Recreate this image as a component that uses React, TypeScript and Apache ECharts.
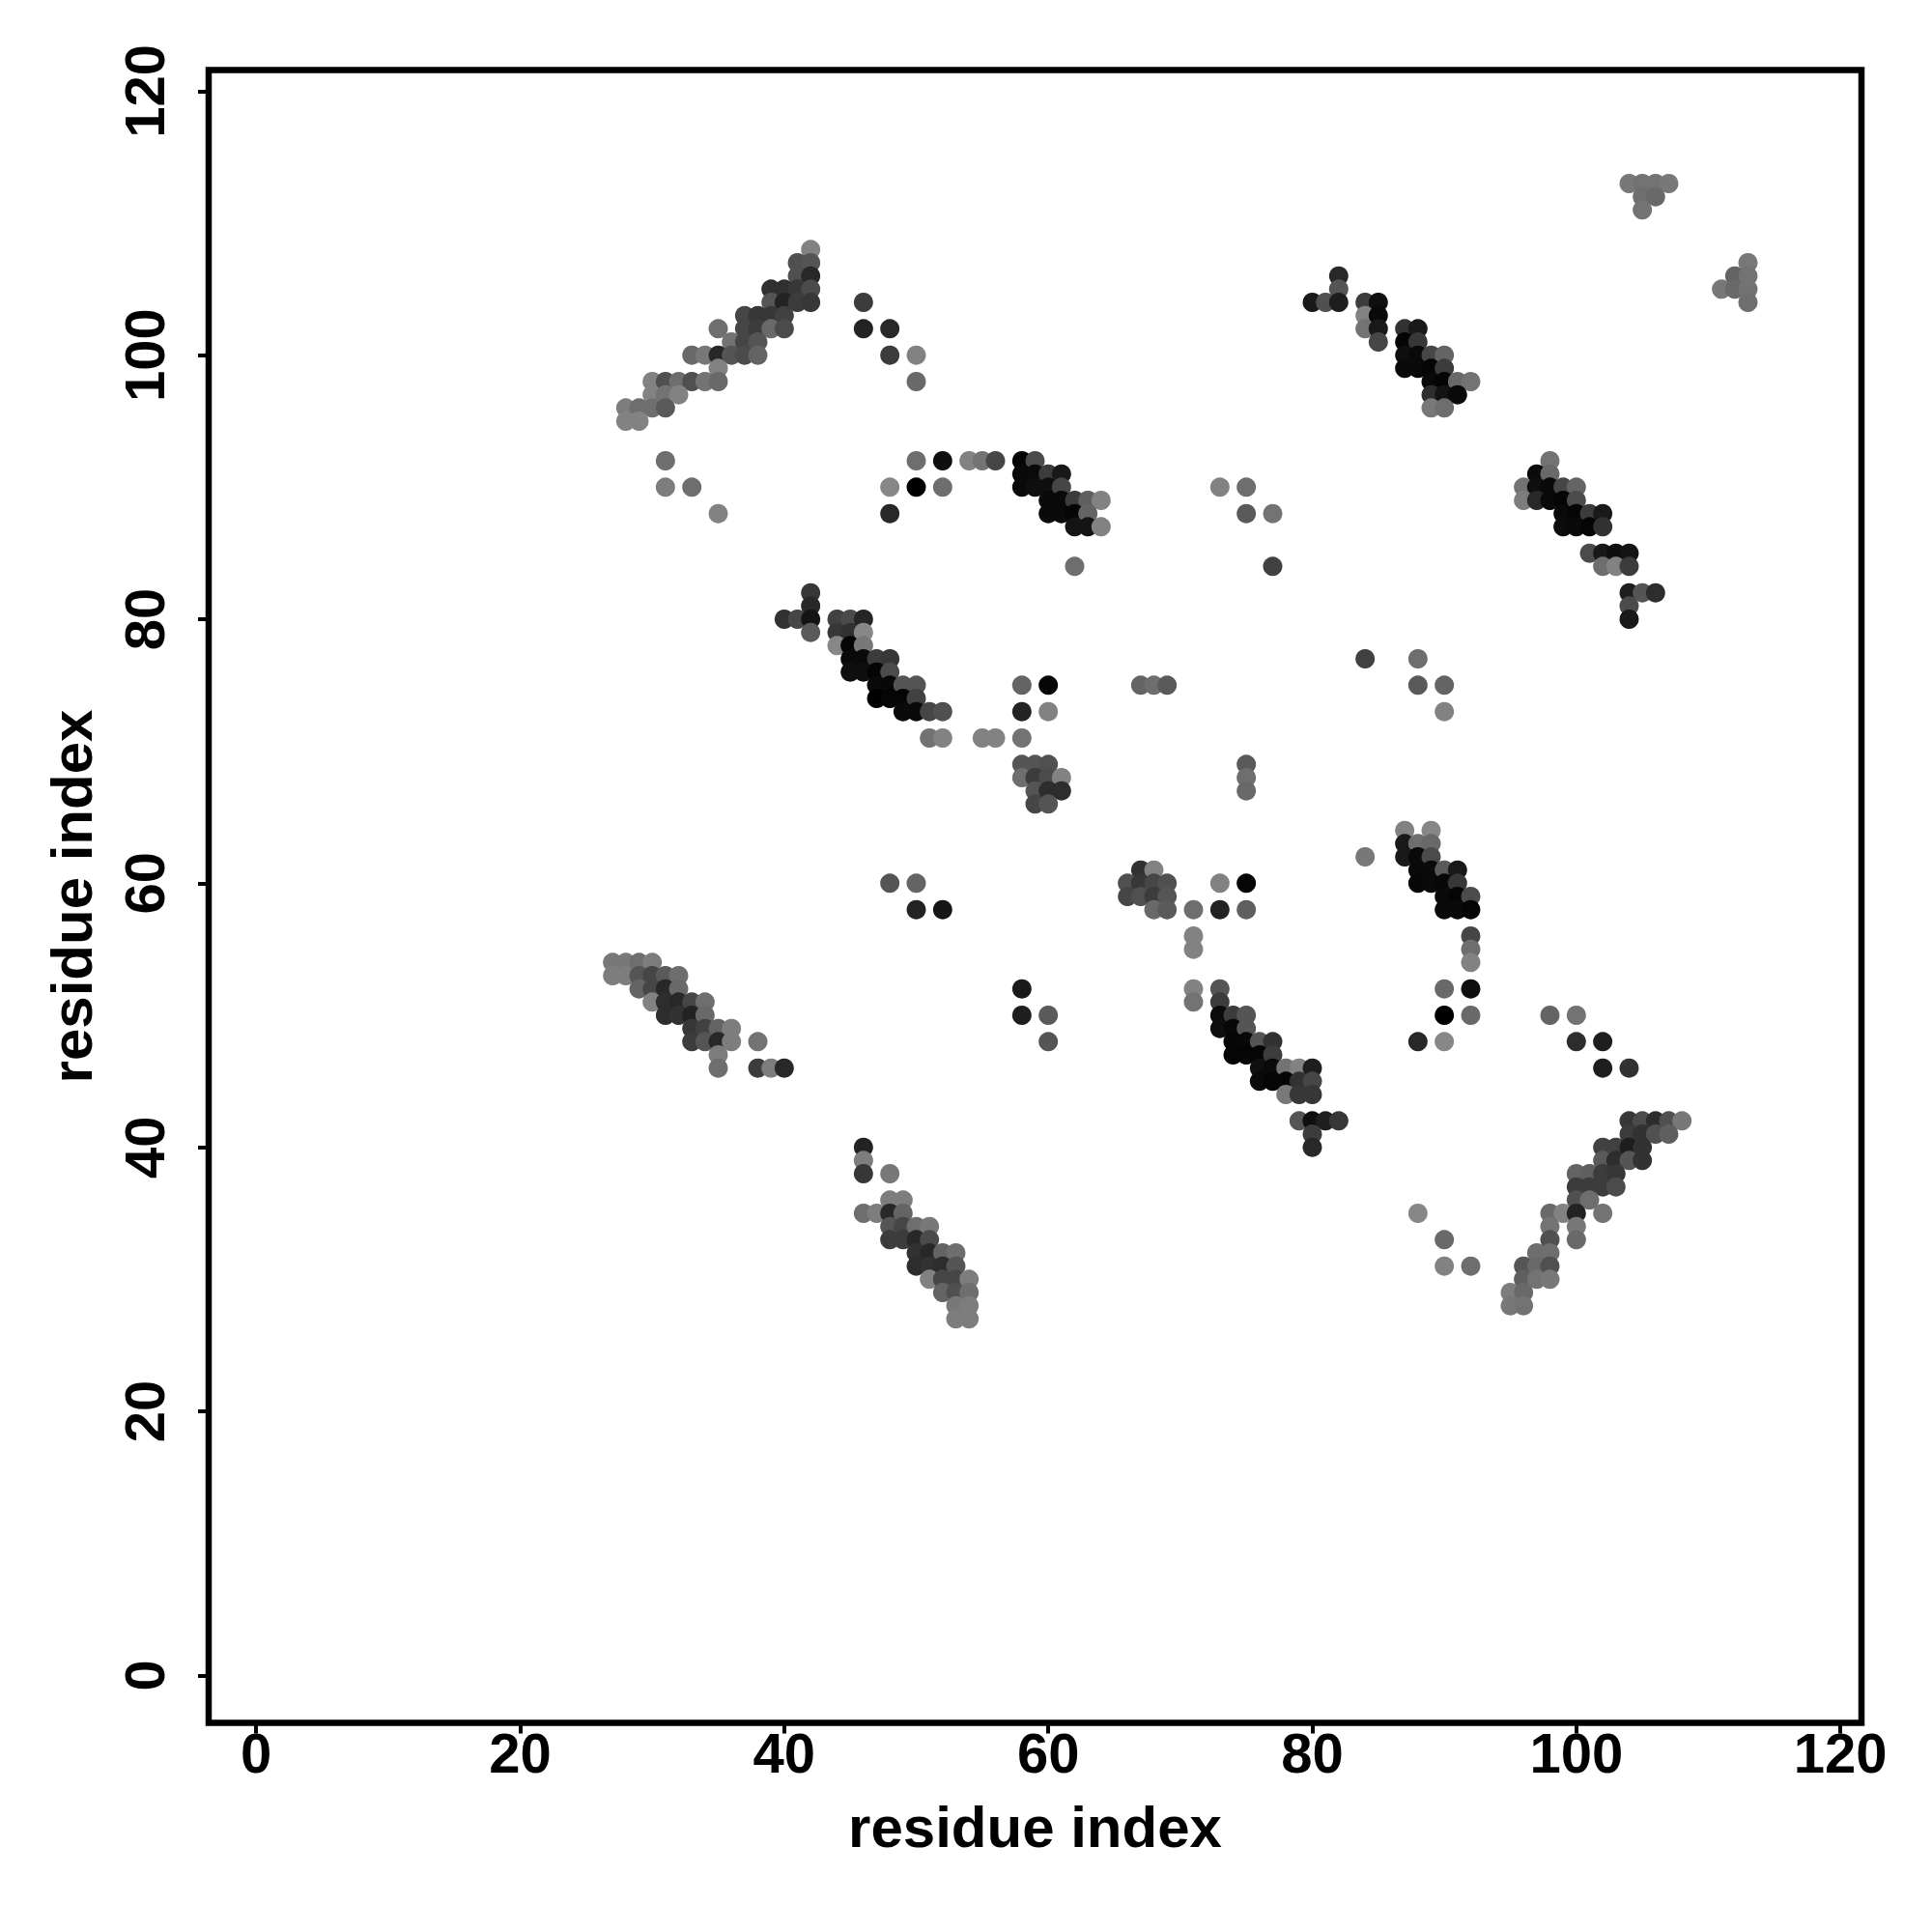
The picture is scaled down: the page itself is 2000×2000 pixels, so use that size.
import React, { useEffect, useRef } from "react";
import * as echarts from "echarts";

type P = [number, number, number];

// each point: [residue x, residue y, grey level of the dot]
const upperLeftBand: P[] = [
  [42,108,130],[41,107,80],[42,107,85],[41,106,80],[42,106,40],
  [39,105,48],[40,105,48],[41,105,55],[42,105,75],
  [39,104,85],[40,104,35],[41,104,60],[42,104,55],
  [37,103,70],[38,103,55],[39,103,55],[40,103,65],
  [35,102,110],[37,102,70],[38,102,60],[39,102,105],[40,102,75],
  [36,101,115],[37,101,70],[38,101,85],
  [33,100,105],[34,100,120],[35,100,40],[36,100,85],[37,100,75],[38,100,100],
  [35,99,130],
  [30,98,130],[31,98,80],[32,98,110],[33,98,80],[34,98,115],[35,98,105],
  [30,97,130],[31,97,115],[32,97,130],
  [28,96,125],[29,96,110],[30,96,110],[31,96,90],
  [28,95,130],[29,95,130],
  [31,92,110],[31,90,125],[33,90,110],[35,88,130],
];
const upperMiddleDots: P[] = [
  [46,104,60],[46,102,35],[48,102,40],[48,100,60],[50,100,130],[50,98,105],
  [50,92,110],[52,92,15],[54,92,130],[55,92,115],[56,92,70],
  [48,90,135],[50,90,0],[52,90,110],[48,88,40],
];
const band58to64: P[] = [
  [58,92,5],[59,92,75],[58,91,10],[59,91,10],[60,91,60],[61,91,25],
  [58,90,10],[59,90,15],[60,90,15],[61,90,70],
  [60,89,10],[61,89,10],[62,89,60],[63,89,95],[64,89,130],
  [60,88,10],[61,88,10],[62,88,5],[63,88,100],
  [62,87,20],[63,87,20],[64,87,130],[62,84,110],
];
const sparse73to77: P[] = [[73,90,130],[75,90,110],[75,88,90],[77,88,115],[77,84,65]];
const band80to92: P[] = [
  [82,106,40],[82,105,85],[80,104,25],[81,104,80],[82,104,30],[84,104,60],[85,104,15],
  [84,103,130],[85,103,10],[84,102,115],[85,102,25],[87,102,50],[88,102,25],
  [85,101,70],[87,101,5],[88,101,55],
  [87,100,15],[88,100,10],[89,100,70],[90,100,100],
  [87,99,10],[88,99,10],[89,99,5],[90,99,60],
  [89,98,10],[90,98,5],[91,98,105],[92,98,115],
  [89,97,45],[90,97,20],[91,97,10],[89,96,120],[90,96,110],
];
const band96to106: P[] = [
  [98,92,115],[97,91,10],[98,91,105],
  [96,90,115],[97,90,15],[98,90,10],[99,90,70],[100,90,100],
  [96,89,125],[97,89,40],[98,89,10],[99,89,5],[100,89,75],
  [99,88,10],[100,88,5],[101,88,60],[102,88,25],
  [99,87,12],[100,87,10],[101,87,5],[102,87,50],
  [101,85,75],[102,85,25],[103,85,15],[104,85,20],
  [102,84,110],[103,84,130],[104,84,60],
  [104,82,30],[105,82,85],[106,82,45],[104,81,75],[104,80,25],
];
const topRightDots: P[] = [
  [104,113,120],[105,113,115],[106,113,115],[107,113,120],
  [105,112,110],[106,112,105],[105,111,115],
  [113,107,120],[112,106,100],[113,106,115],
  [111,105,120],[112,105,105],[113,105,115],[113,104,110],
];
const band40to61: P[] = [
  [42,82,55],[42,81,40],[40,80,50],[41,80,70],[42,80,20],[44,80,65],[45,80,75],[46,80,38],
  [42,79,90],[44,79,55],[45,79,50],[46,79,135],
  [44,78,135],[45,78,5],[46,78,120],
  [45,77,10],[46,77,10],[47,77,60],[48,77,55],
  [45,76,15],[46,76,15],[47,76,5],[48,76,75],
  [47,75,10],[48,75,8],[49,75,85],[50,75,85],[58,75,100],[60,75,5],
  [47,74,0],[48,74,5],[49,74,5],[50,74,65],
  [49,73,10],[50,73,10],[51,73,70],[52,73,80],[58,73,35],[60,73,130],
  [51,71,115],[52,71,130],[55,71,130],[56,71,130],[58,71,115],
  [58,69,85],[59,69,85],[60,69,80],
  [58,68,110],[59,68,60],[60,68,75],[61,68,130],
  [59,67,85],[60,67,45],[61,67,45],[59,66,70],[60,66,85],
];
const middleDots: P[] = [
  [84,77,65],[88,77,110],[88,75,90],[90,75,100],[90,73,130],
  [67,75,100],[68,75,110],[69,75,90],[75,69,90],[75,68,110],[75,67,105],
  [48,60,85],[50,60,100],[50,58,35],[52,58,22],
  [67,61,50],[68,61,130],[66,60,80],[67,60,55],[68,60,70],[69,60,80],[73,60,130],[75,60,5],
  [66,59,70],[67,59,80],[68,59,60],[69,59,85],
  [68,58,105],[69,58,90],[71,58,110],[73,58,35],[75,58,95],
  [71,56,130],[71,55,130],[58,52,25],[71,52,130],[71,51,115],
  [58,50,30],[60,50,90],[60,48,85],
];
const band73to82: P[] = [
  [73,52,85],[73,51,60],[73,50,10],[74,50,60],[75,50,85],
  [73,49,15],[74,49,8],[75,49,85],
  [74,48,5],[75,48,8],[76,48,85],[77,48,50],
  [74,47,5],[75,47,5],[76,47,5],[77,47,60],
  [76,46,15],[77,46,10],[78,46,115],[79,46,130],[80,46,30],
  [76,45,10],[77,45,5],[78,45,5],[79,45,50],[80,45,70],
  [78,44,120],[79,44,55],[80,44,55],
  [79,42,85],[80,42,15],[81,42,30],[82,42,55],[80,41,60],[80,40,40],
];
const band84to92: P[] = [
  [87,64,130],[89,64,135],[87,63,25],[88,63,110],[89,63,105],
  [84,62,120],[87,62,25],[88,62,10],[89,62,75],
  [88,61,10],[89,61,10],[90,61,90],[91,61,25],
  [88,60,8],[89,60,10],[90,60,8],[91,60,55],
  [90,59,10],[91,59,5],[92,59,75],[90,58,10],[91,58,10],[92,58,5],
  [92,56,70],[92,55,110],[92,54,130],
  [90,52,105],[92,52,15],[90,50,0],[92,50,105],[88,48,40],[90,48,135],
];
const band27to40: P[] = [
  [27,54,120],[28,54,120],[29,54,110],[30,54,125],
  [27,53,125],[28,53,125],[29,53,85],[30,53,70],[31,53,90],[32,53,110],
  [29,52,100],[30,52,70],[31,52,40],[32,52,105],
  [30,51,130],[31,51,45],[32,51,40],[33,51,70],[34,51,110],
  [31,50,45],[32,50,50],[33,50,35],[34,50,105],
  [33,49,55],[34,49,65],[35,49,100],[36,49,125],
  [33,48,60],[34,48,85],[35,48,40],[36,48,125],[38,48,115],
  [35,47,125],[35,46,110],[38,46,60],[39,46,125],[40,46,40],
];
const band46to54: P[] = [
  [46,40,35],[46,39,125],[46,38,55],[48,38,120],
  [48,36,125],[49,36,125],[46,35,110],[47,35,125],[48,35,40],[49,35,100],
  [48,34,85],[49,34,70],[50,34,110],[51,34,120],
  [48,33,60],[49,33,60],[50,33,40],[51,33,75],
  [50,32,50],[51,32,40],[52,32,100],[53,32,110],
  [50,31,45],[51,31,50],[52,31,45],[53,31,85],
  [51,30,130],[52,30,70],[53,30,70],[54,30,125],
  [52,29,100],[53,29,80],[54,29,110],[53,28,120],[54,28,125],[53,27,125],[54,27,125],
];
const lowerRightDots: P[] = [
  [98,50,100],[100,50,115],[100,48,45],[102,48,30],[102,46,30],[104,46,50],
  [88,35,135],[90,33,105],[90,31,130],[92,31,110],
];
const band95to108: P[] = [
  [104,42,55],[105,42,75],[106,42,45],[107,42,80],[108,42,120],
  [104,41,60],[105,41,50],[106,41,80],[107,41,95],
  [102,40,65],[103,40,65],[104,40,30],[105,40,50],
  [102,39,90],[103,39,45],[104,39,85],[105,39,50],
  [100,38,100],[101,38,95],[102,38,60],[103,38,55],
  [100,37,60],[101,37,60],[102,37,60],[103,37,75],
  [100,36,80],[101,36,110],
  [98,35,105],[99,35,130],[100,35,35],[102,35,115],
  [98,34,115],[100,34,120],[98,33,80],[100,33,105],
  [97,32,110],[98,32,110],[96,31,85],[97,31,105],[98,31,80],
  [96,30,95],[97,30,115],[98,30,120],
  [95,29,125],[96,29,105],[95,28,120],[96,28,115],
];

const tickValues = [0, 20, 40, 60, 80, 100, 120];
const axisTitle = "residue index";

const allPoints: P[] = [
  ...upperLeftBand, ...upperMiddleDots, ...band58to64, ...sparse73to77, ...band80to92,
  ...band96to106, ...topRightDots, ...band40to61, ...middleDots, ...band73to82,
  ...band84to92, ...band27to40, ...band46to54, ...lowerRightDots, ...band95to108,
].sort((a, b) => b[1] - a[1] || a[0] - b[0]);

const FONT = "Liberation Sans";

function axisBase() {
  return {
    type: "value" as const,
    min: -3.6,
    max: 121.6,
    splitLine: { show: false },
    axisLine: { show: false, onZero: false },
    axisTick: {
      show: true,
      length: 11,
      customValues: tickValues,
      lineStyle: { color: "#000", width: 4 },
    },
    name: axisTitle,
    nameLocation: "middle" as const,
    nameTextStyle: { fontFamily: FONT, fontWeight: "bold" as const, fontSize: 60, color: "#000" },
  };
}

export default function App() {
  const ref = useRef<HTMLDivElement>(null);
  useEffect(() => {
    const chart = echarts.init(ref.current!, undefined, { renderer: "svg" });
    chart.setOption({
      animation: false,
      backgroundColor: "#fff",
      grid: {
        left: 216,
        top: 72.5,
        width: 1711,
        height: 1711,
        show: true,
        borderColor: "#000",
        borderWidth: 6.5,
        backgroundColor: "transparent",
      },
      xAxis: {
        ...axisBase(),
        nameGap: 78,
        axisLabel: {
          customValues: tickValues,
          margin: 2,
          fontFamily: FONT,
          fontWeight: "bold",
          fontSize: 58,
          color: "#000",
        },
      },
      yAxis: {
        ...axisBase(),
        nameGap: 112,
        axisLabel: {
          customValues: tickValues,
          rotate: 90,
          margin: 38,
          fontFamily: FONT,
          fontWeight: "bold",
          fontSize: 58,
          color: "#000",
        },
      },
      series: [
        {
          type: "scatter",
          symbol: "circle",
          symbolSize: 20,
          silent: true,
          data: allPoints.map(([x, y, g]) => ({
            value: [x, y],
            itemStyle: { color: `rgb(${g},${g},${g})`, opacity: 1 },
          })),
        },
      ],
    });
    return () => chart.dispose();
  }, []);
  return (
    <div
      ref={ref}
      style={{ position: "absolute", left: 0, top: 0, width: 2000, height: 2000, background: "#fff" }}
    />
  );
}
